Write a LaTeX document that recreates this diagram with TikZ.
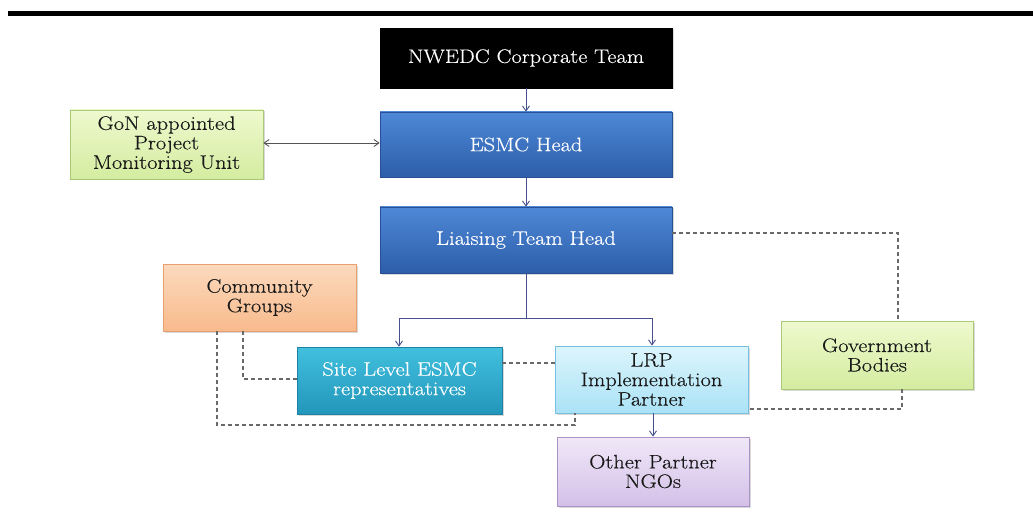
\documentclass[tikz,border=0pt]{standalone}
\usepackage{fontspec}
\setmainfont{Latin Modern Roman}[FakeStretch=1.15,FakeBold=0.4]
\usetikzlibrary{arrows.meta,shadows,positioning}
\definecolor{bluetop}{RGB}{78,136,214}
\definecolor{bluebot}{RGB}{44,94,170}
\definecolor{blueedge}{RGB}{40,80,150}
\definecolor{greentop}{RGB}{238,249,206}
\definecolor{greenbot}{RGB}{212,236,160}
\definecolor{greenedge}{RGB}{170,200,120}
\definecolor{orangetop}{RGB}{252,218,190}
\definecolor{orangebot}{RGB}{248,186,140}
\definecolor{orangeedge}{RGB}{232,160,112}
\definecolor{tealtop}{RGB}{66,192,222}
\definecolor{tealbot}{RGB}{34,150,186}
\definecolor{tealedge}{RGB}{30,130,165}
\definecolor{cyantop}{RGB}{220,245,252}
\definecolor{cyanbot}{RGB}{170,226,246}
\definecolor{cyanedge}{RGB}{120,192,226}
\definecolor{purptop}{RGB}{240,232,248}
\definecolor{purpbot}{RGB}{212,192,232}
\definecolor{purpedge}{RGB}{170,146,196}
\definecolor{linkblue}{RGB}{70,80,140}
\definecolor{dashgray}{RGB}{105,105,105}
\definecolor{txt}{RGB}{25,25,25}
\tikzset{
  box/.style={rectangle, inner sep=0pt, align=center, font=\fontsize{19.5}{19.5}\selectfont,
    drop shadow={shadow xshift=1.5pt, shadow yshift=-1.5pt, opacity=0.3}},
  bluebox/.style={box, top color=bluetop, bottom color=bluebot, draw=blueedge, text=white, line width=0.6pt},
  greenbox/.style={box, top color=greentop, bottom color=greenbot, draw=greenedge, text=txt, line width=0.8pt},
  orangebox/.style={box, top color=orangetop, bottom color=orangebot, draw=orangeedge, text=txt, line width=0.8pt},
  tealbox/.style={box, top color=tealtop, bottom color=tealbot, draw=tealedge, text=white, line width=0.6pt},
  cyanbox/.style={box, top color=cyantop, bottom color=cyanbot, draw=cyanedge, text=txt, line width=0.8pt},
  purpbox/.style={box, top color=purptop, bottom color=purpbot, draw=purpedge, text=txt, line width=0.8pt},
  blackbox/.style={box, fill=black, draw=black, text=white},
  link/.style={draw=linkblue, line width=0.9pt, -{Straight Barb[length=5pt,width=7pt]}},
  dlink/.style={draw=dashgray!80!black, line width=0.9pt, {Straight Barb[length=5pt,width=7pt]}-{Straight Barb[length=5pt,width=7pt]}},
  dashlink/.style={draw=dashgray, line width=1.2pt, dash pattern=on 4pt off 3pt}
}
\begin{document}
\begin{tikzpicture}[x=1pt,y=-1pt]
\useasboundingbox (0,0) rectangle (1033,513);
\fill[black] (8,11) rectangle (1033,16);

\node[blackbox, minimum width=292pt, minimum height=60pt] (nwedc) at (526,58) {NWEDC Corporate Team};
\node[bluebox, minimum width=292pt, minimum height=65pt] (esmc) at (526,144.5) {ESMC Head};
\node[bluebox, minimum width=292pt, minimum height=66pt] (liais) at (526,240) {Liaising Team Head};
\node[greenbox, minimum width=193pt, minimum height=69pt] (gon) at (166.5,144.5) {GoN appointed\\Project\\Monitoring Unit};
\node[orangebox, minimum width=193pt, minimum height=67pt] (comm) at (259.5,297.5) {Community\\Groups};
\node[tealbox, minimum width=205pt, minimum height=67pt] (site) at (399.5,380.5) {Site Level ESMC\\representatives};
\node[cyanbox, minimum width=193pt, minimum height=67pt] (lrp) at (651.5,379.5) {LRP\\Implementation\\Partner};
\node[greenbox, minimum width=192pt, minimum height=68pt] (gov) at (877,355) {Government\\Bodies};
\node[purpbox, minimum width=192pt, minimum height=69pt] (ngo) at (653,471.5) {Other Partner\\NGOs};

\coordinate (split) at (526,318);
\coordinate (lk) at (575,425);

\draw[link] (nwedc.south) -- (esmc.north);
\draw[dlink] ([yshift=1.5pt]gon.east) -- ([yshift=1.5pt]esmc.west);
\draw[link] (esmc.south) -- (liais.north);
\draw[draw=linkblue, line width=0.9pt] (liais.south) -- (split);
\draw[link] (split) -| ([xshift=-0.5pt]site.north);
\draw[link] (split) -| ([xshift=0.5pt]lrp.north);
\draw[link] ([xshift=1.5pt]lrp.south) -- (ngo.north);

\draw[dashlink] ([yshift=7pt]liais.east) -| ([xshift=21pt]gov.north);
\draw[dashlink] ([xshift=25pt]gov.south) |- ([yshift=-29.5pt]lrp.east);
\draw[dashlink] ([yshift=17.5pt]site.east) -- ([yshift=16.5pt]lrp.west);
\draw[dashlink] ([xshift=-16.5pt]comm.south) |- ([yshift=1.5pt]site.west);
\draw[dashlink] ([xshift=-42.5pt]comm.south) |- (lk) -- (lk |- lrp.south);
\end{tikzpicture}
\end{document}
